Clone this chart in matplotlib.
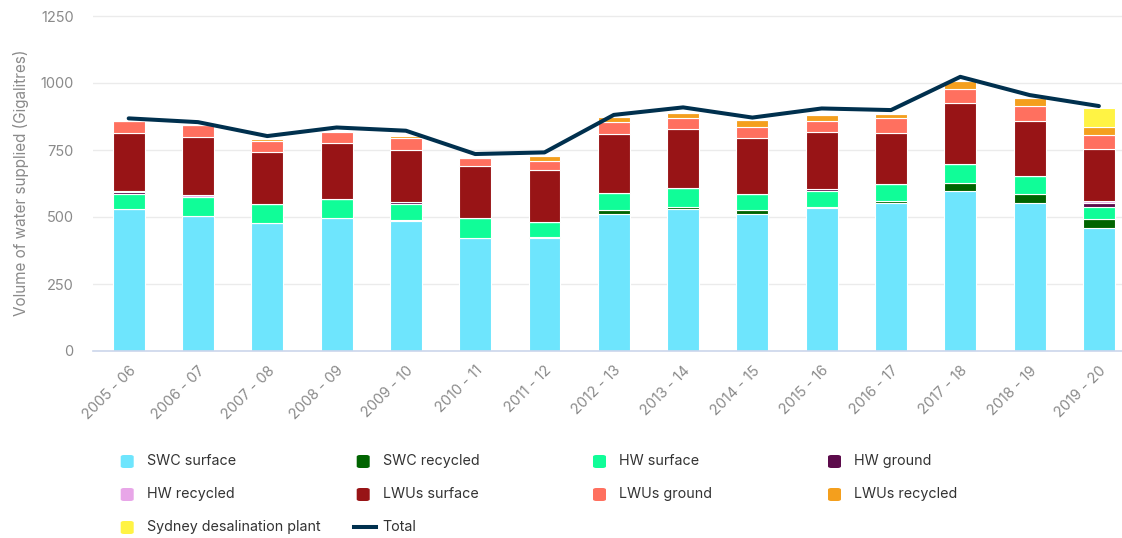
import matplotlib
matplotlib.use("Agg")
import matplotlib.pyplot as plt
from matplotlib.patches import FancyBboxPatch
from matplotlib.lines import Line2D
import numpy as np

plt.rcParams['font.family'] = ['Inter', 'DejaVu Sans']

years = ["2005 - 06", "2006 - 07", "2007 - 08", "2008 - 09", "2009 - 10",
         "2010 - 11", "2011 - 12", "2012 - 13", "2013 - 14", "2014 - 15",
         "2015 - 16", "2016 - 17", "2017 - 18", "2018 - 19", "2019 - 20"]

swc_surface = [528, 505, 479, 495, 484, 420, 420, 511, 528, 511, 532, 553, 597, 554, 458]
swc_recycled = [0, 0, 0, 0, 4, 0, 6, 15, 8, 15, 7, 7, 30, 30, 34]
hw_surface = [57, 71, 69, 71, 61, 75, 57, 64, 71, 59, 58, 63, 70, 69, 44]
hw_ground = [10, 0, 0, 0, 6, 0, 0, 0, 0, 0, 8, 0, 0, 0, 18]
hw_recycled = [3, 5, 0, 0, 0, 0, 0, 0, 0, 0, 0, 0, 0, 0, 5]
lwus_surface = [215, 216, 195, 209, 195, 194, 194, 221, 220, 210, 211, 192, 227, 206, 196]
lwus_ground = [44, 45, 39, 44, 44, 33, 32, 45, 42, 42, 44, 53, 54, 54, 52]
lwus_recycled = [0, 0, 9, 3, 8, 0, 18, 18, 20, 25, 22, 18, 28, 30, 28]
desal = [0, 0, 0, 0, 0, 0, 0, 0, 0, 0, 0, 0, 0, 0, 70]
total = [868, 854, 802, 834, 822, 735, 741, 881, 909, 871, 905, 899, 1023, 955, 914]

series = [
    ("SWC surface", swc_surface, "#6ee5fd"),
    ("SWC recycled", swc_recycled, "#006400"),
    ("HW surface", hw_surface, "#10fd98"),
    ("HW ground", hw_ground, "#5c0b4b"),
    ("HW recycled", hw_recycled, "#e8a6e8"),
    ("LWUs surface", lwus_surface, "#981416"),
    ("LWUs ground", lwus_ground, "#ff705f"),
    ("LWUs recycled", lwus_recycled, "#f49f1d"),
    ("Sydney desalination plant", desal, "#fff344"),
]

W, H = 1122, 538
fig = plt.figure(figsize=(W / 100, H / 100), dpi=100)
ymax = 1255
px_per_unit = 335 / 1250
ax = fig.add_axes([93 / W, 1 - 351 / H, (W - 93) / W, ymax * px_per_unit / H])

x = np.arange(len(years))
bottom = np.zeros(len(years))
for name, vals, col in series:
    vals = np.array(vals, dtype=float)
    ax.bar(x, vals, bottom=bottom, width=0.46, color=col, edgecolor="white",
           linewidth=0.8, zorder=2)
    bottom += vals

ax.plot(x, total, color="#00304e", lw=2.9, zorder=3, solid_capstyle="round",
        solid_joinstyle="round")

ax.set_ylim(0, ymax)
ax.set_xlim(-0.515, (W - 128.7) / 69.3)
ax.set_yticks([0, 250, 500, 750, 1000, 1250])
ax.yaxis.grid(True, color="#ebebeb", lw=1, zorder=0)
ax.set_axisbelow(True)
for s in ["top", "right", "left"]:
    ax.spines[s].set_visible(False)
ax.spines["bottom"].set_color("#ccd6eb")
ax.spines["bottom"].set_linewidth(1.2)
ax.tick_params(axis="y", length=0, pad=14, labelsize=10.5, labelcolor="#8a8a8a")
ax.tick_params(axis="x", length=0, pad=9, labelsize=10.5, labelcolor="#8a8a8a")
ax.set_xticks(x)
ax.set_xticklabels(years, rotation=45, ha="right", rotation_mode="anchor")
ax.set_ylabel("Volume of water supplied (Gigalitres)", fontsize=11, color="#8a8a8a",
              labelpad=8)

# legend, laid out like the original (row by row, 4 columns)
cols_px = [120.7, 356.7, 593, 828]
rows_px = [461, 494, 527]
items = [(n, c) for n, _, c in series] + [("Total", None)]
for i, (name, col) in enumerate(items):
    cx = cols_px[i % 4]
    cy = rows_px[i // 4]
    if col is not None:
        fig.add_artist(FancyBboxPatch(((cx) / W, 1 - (cy + 7) / H), 13 / W, 13 / H,
                                      boxstyle="round,pad=0,rounding_size=0.003",
                                      transform=fig.transFigure, color=col, lw=0))
    else:
        fig.add_artist(Line2D([(cx - 3) / W, (cx + 19) / W], [1 - cy / H, 1 - cy / H],
                              transform=fig.transFigure, color="#00304e", lw=2.9))
    fig.text((cx + 26) / W, 1 - cy / H, name, fontsize=10.3, color="#333333",
             va="center", ha="left")

fig.savefig("out.png", dpi=100)
